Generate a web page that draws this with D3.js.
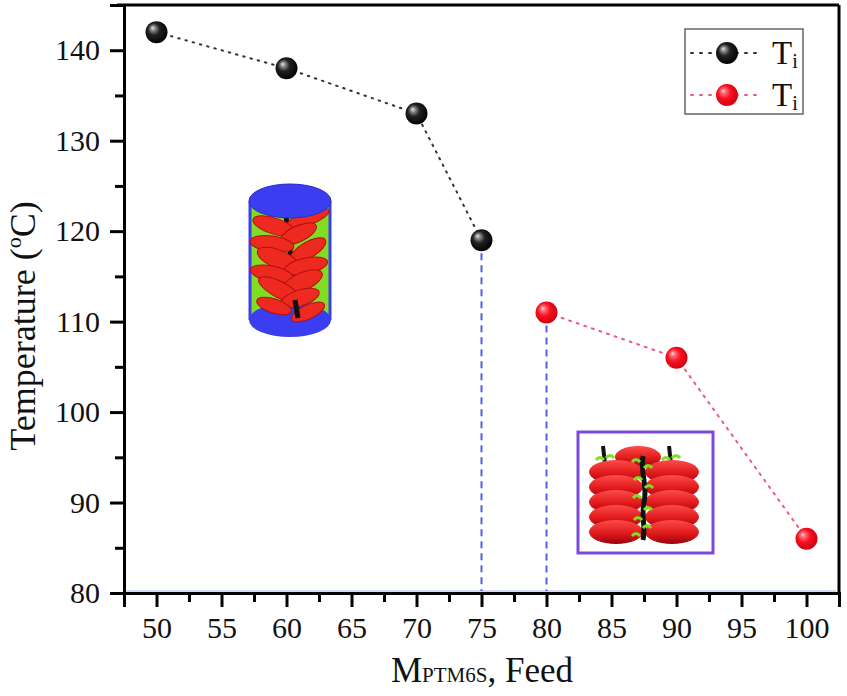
<!DOCTYPE html>
<html>
<head>
<meta charset="utf-8">
<script src="https://cdn.jsdelivr.net/npm/d3@7"></script>
<style>
  body { margin: 0; background: #fff; }
  svg, svg text { font-family: "Liberation Serif", "DejaVu Serif", serif; }
  svg { display: block; }
</style>
</head>
<body>
<svg id="chart" width="847" height="696"></svg>
<script>
// Ti vs feed ratio (two phases)

const feedCol = [50, 60, 70, 75];        // first phase (black)
const tempCol = [142, 138, 133, 119];
const feedHex = [80, 90, 100];           // second phase (red)
const tempHex = [111, 106, 86];
const xMajor = [50, 55, 60, 65, 70, 75, 80, 85, 90, 95, 100];
const xMinor = [47.5, 52.5, 57.5, 62.5, 67.5, 72.5, 77.5, 82.5, 87.5, 92.5, 97.5, 102.5];
const yMajor = [80, 90, 100, 110, 120, 130, 140];
const yMinor = [85, 95, 105, 115, 125, 135];
const legendLabels = ["T", "T"];

const plotL = 124, plotR = 839, plotT = 5, plotB = 593;

const svg = d3.select("#chart");

const x = d3.scaleLinear().domain([47.5, 102.5]).range([plotL, plotR]);
const y = d3.scaleLinear().domain([80, 145]).range([plotB, plotT]);

// gradients
const defs = svg.append("defs");
function sphereGrad(id, stops) {
  const gr = defs.append("radialGradient").attr("id", id)
    .attr("cx", "45%").attr("cy", "45%").attr("r", "60%")
    .attr("fx", "32%").attr("fy", "30%");
  stops.forEach(s => gr.append("stop").attr("offset", s[0]).attr("stop-color", s[1]));
}
sphereGrad("ballBlack", [["0%", "#e8e8e8"], ["18%", "#8a8a8a"], ["45%", "#222"], ["100%", "#000"]]);
sphereGrad("ballRed", [["0%", "#ffe0e6"], ["18%", "#ff6a78"], ["50%", "#f8101e"], ["100%", "#c80010"]]);

const disk = defs.append("linearGradient").attr("id", "disk")
  .attr("x1", 0).attr("y1", 0).attr("x2", 0).attr("y2", 1);
disk.append("stop").attr("offset", "0%").attr("stop-color", "#ff4a4a");
disk.append("stop").attr("offset", "55%").attr("stop-color", "#e01a1a");
disk.append("stop").attr("offset", "100%").attr("stop-color", "#9c0010");

// ---------- illustrations ----------
function drawCylinder(g) {
  // cylinder body
  g.append("rect").attr("x", -40).attr("y", -59).attr("width", 80).attr("height", 119)
    .attr("fill", "#82dc22");
  g.append("line").attr("x1", -40).attr("x2", -40).attr("y1", -59).attr("y2", 60)
    .attr("stroke", "#3a3ef0").attr("stroke-width", 3);
  g.append("line").attr("x1", 40).attr("x2", 40).attr("y1", -59).attr("y2", 60)
    .attr("stroke", "#3a3ef0").attr("stroke-width", 3);
  g.append("ellipse").attr("cx", 0).attr("cy", 60).attr("rx", 41).attr("ry", 17)
    .attr("fill", "#3a3ef0");

  // helical discs round a rod
  g.append("line").attr("x1", -4).attr("y1", -45).attr("x2", 8).attr("y2", 58)
    .attr("stroke", "#111").attr("stroke-width", 5);
  const discs = [
    [18, -42, 22, 7, -20], [-16, -34, 22, 8, 18], [8, -26, 20, 8, -25],
    [-18, -16, 22, 8, 8], [18, -10, 20, 8, -30], [-12, -1, 22, 9, 22],
    [16, 6, 22, 8, -12], [-18, 14, 22, 8, 12], [12, 22, 22, 9, -25],
    [-10, 30, 24, 8, 28], [10, 38, 20, 8, -18], [-16, 46, 18, 7, 18], [18, 52, 18, 7, -25]
  ];
  discs.forEach(d => {
    g.append("ellipse").attr("cx", d[0]).attr("cy", d[1]).attr("rx", d[2]).attr("ry", d[3])
      .attr("transform", `rotate(${d[4]},${d[0]},${d[1]})`)
      .attr("fill", "#ee2a20").attr("stroke", "#b01010").attr("stroke-width", 1);
  });
  g.append("line").attr("x1", 5).attr("y1", 40).attr("x2", 8).attr("y2", 58)
    .attr("stroke", "#111").attr("stroke-width", 5);

  g.append("ellipse").attr("cx", 0).attr("cy", -59).attr("rx", 41).attr("ry", 17)
    .attr("fill", "#3a3ef0").attr("stroke", "#2a2ec8").attr("stroke-width", 1);
}

function drawStack(g) {
  g.append("rect").attr("x", 0).attr("y", 0).attr("width", 135).attr("height", 121)
    .attr("fill", "#fff").attr("stroke", "#7a4ae0").attr("stroke-width", 3);
  // sticks on top
  g.append("line").attr("x1", 25).attr("y1", 14).attr("x2", 27).attr("y2", 32)
    .attr("stroke", "#111").attr("stroke-width", 4);
  g.append("line").attr("x1", 91).attr("y1", 14).attr("x2", 93).attr("y2", 32)
    .attr("stroke", "#111").attr("stroke-width", 4);
  g.append("ellipse").attr("cx", 60).attr("cy", 25).attr("rx", 23).attr("ry", 11)
    .attr("fill", "url(#disk)");
  const rows = [40, 55, 70, 85, 100];
  [38, 94].forEach(cx => {
    rows.forEach(cy => {
      g.append("ellipse").attr("cx", cx).attr("cy", cy).attr("rx", 27).attr("ry", 12)
        .attr("fill", "url(#disk)");
    });
  });
  g.append("path").attr("d", "M65,24 C62,40 70,55 66,70 C63,85 68,95 65,108")
    .attr("fill", "none").attr("stroke", "#111").attr("stroke-width", 5);
  const bits = [[58, 30], [70, 36], [60, 48], [71, 56], [59, 66], [70, 78], [60, 88], [69, 96], [58, 104],
                [22, 28], [32, 26], [88, 28], [98, 26]];
  bits.forEach(b => {
    g.append("path").attr("d", `M${b[0] - 4},${b[1]} q4,-5 8,0`)
      .attr("fill", "none").attr("stroke", "#7ee020").attr("stroke-width", 3);
  });
}

drawCylinder(svg.append("g").attr("transform", "translate(290,260)"));
drawStack(svg.append("g").attr("transform", "translate(578,432)"));

// ---------- frame ----------
svg.append("line").attr("x1", plotL).attr("x2", plotR - 3).attr("y1", plotB - 2).attr("y2", plotB - 2)
  .attr("stroke", "#4a6cf0").attr("stroke-width", 1).attr("opacity", 0.5);
svg.append("line").attr("x1", plotL - 7).attr("x2", plotR).attr("y1", plotT).attr("y2", plotT)
  .attr("stroke", "#000").attr("stroke-width", 3);
svg.append("line").attr("x1", plotR).attr("x2", plotR).attr("y1", plotT).attr("y2", plotB)
  .attr("stroke", "#000").attr("stroke-width", 3);

// ---------- axes ----------
function styleAxis(g) {
  g.attr("font-family", null).attr("font-size", null);
  g.select(".domain").attr("stroke", "#000").attr("stroke-width", 3);
  g.selectAll(".tick line").attr("stroke", "#000").attr("stroke-width", 3);
  g.selectAll(".tick text").attr("fill", "#111").style("font-size", "30px");
}

const xMinorG = svg.append("g").attr("transform", `translate(0,${plotB})`)
  .call(d3.axisBottom(x).tickValues(xMinor).tickSize(9).tickFormat(""));
styleAxis(xMinorG);
const xAxisG = svg.append("g").attr("transform", `translate(0,${plotB})`)
  .call(d3.axisBottom(x).tickValues(xMajor).tickSize(14).tickPadding(10).tickFormat(d3.format("d")));
styleAxis(xAxisG);

const yMinorG = svg.append("g").attr("transform", `translate(${plotL},0)`)
  .call(d3.axisLeft(y).tickValues(yMinor).tickSize(9).tickFormat(""));
styleAxis(yMinorG);
const yAxisG = svg.append("g").attr("transform", `translate(${plotL},0)`)
  .call(d3.axisLeft(y).tickValues(yMajor).tickSize(14).tickPadding(10).tickFormat(d3.format("d")));
styleAxis(yAxisG);

// axis titles
const yt = svg.append("text")
  .attr("transform", "translate(35,326) rotate(-90)")
  .attr("text-anchor", "middle")
  .style("font-size", "36px").attr("fill", "#111");
yt.append("tspan").text("Temperature (");
yt.append("tspan").text("o").style("font-size", "22px").attr("dy", "-14");
yt.append("tspan").text("C)").attr("dy", "14");

const xt = svg.append("text").attr("x", 482).attr("y", 682)
  .attr("text-anchor", "middle").attr("fill", "#111");
xt.append("tspan").text("M").style("font-size", "35px");
xt.append("tspan").text("PTM6S").style("font-size", "21px");
xt.append("tspan").text(", Feed").style("font-size", "35px");

// ---------- phase boundaries ----------
const bounds = [
  { f: feedCol[feedCol.length - 1], t: tempCol[tempCol.length - 1] },
  { f: feedHex[0], t: tempHex[0] }
];
svg.selectAll("line.bound").data(bounds).join("line")
  .attr("class", "bound")
  .attr("x1", d => x(d.f)).attr("x2", d => x(d.f))
  .attr("y1", d => y(d.t) + 13).attr("y2", plotB - 2)
  .attr("stroke", "#4a62ea").attr("stroke-width", 2)
  .attr("stroke-dasharray", "7,5");

// ---------- series ----------
const series = [
  { feed: feedCol, temp: tempCol, line: "#333", ball: "url(#ballBlack)", dash: "1.5,6" },
  { feed: feedHex, temp: tempHex, line: "#f05a7a", ball: "url(#ballRed)", dash: "2,6" }
];

const lineGen = d3.line().x(d => x(d[0])).y(d => y(d[1]));

series.forEach(s => {
  const pts = s.feed.map((f, i) => [f, s.temp[i]]);
  svg.append("path").datum(pts).attr("d", lineGen)
    .attr("fill", "none").attr("stroke", s.line).attr("stroke-width", 2)
    .attr("stroke-dasharray", s.dash).attr("stroke-linecap", "round");
  svg.selectAll(null).data(pts).join("circle")
    .attr("cx", d => x(d[0])).attr("cy", d => y(d[1])).attr("r", 11)
    .attr("fill", s.ball);
});

// ---------- legend ----------
const lg = svg.append("g").attr("transform", "translate(685,29)");
lg.append("rect").attr("width", 118).attr("height", 85)
  .attr("fill", "#fff").attr("stroke", "#666").attr("stroke-width", 1.5);
series.forEach((s, i) => {
  const ly = 24 + i * 42;
  lg.append("line").attr("x1", 6).attr("x2", 78).attr("y1", ly).attr("y2", ly)
    .attr("stroke", s.line).attr("stroke-width", 2)
    .attr("stroke-dasharray", "2,7").attr("stroke-linecap", "round");
  lg.append("circle").attr("cx", 42).attr("cy", ly).attr("r", 11).attr("fill", s.ball);
  const t = lg.append("text").attr("x", 87).attr("y", ly + 11).attr("fill", "#111");
  t.append("tspan").text(legendLabels[i]).style("font-size", "33px");
  t.append("tspan").text("i").style("font-size", "20px").attr("dy", "4");
});
</script>
</body>
</html>
